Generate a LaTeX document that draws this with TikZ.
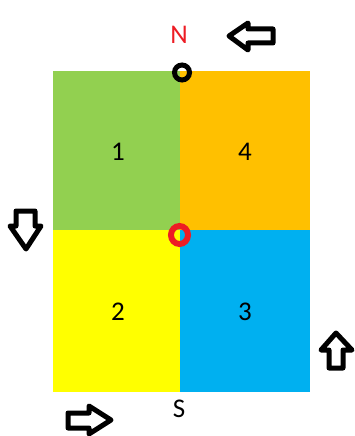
\documentclass[tikz,border=0pt]{standalone}
\usepackage{fontspec}
\setmainfont{Carlito}
\definecolor{qgreen}{RGB}{146,208,80}
\definecolor{qorange}{RGB}{255,192,0}
\definecolor{qyellow}{RGB}{255,255,0}
\definecolor{qblue}{RGB}{0,176,240}
\definecolor{nred}{RGB}{237,28,36}
\tikzset{
blockarrow/.style={draw=black, fill=white, line width=5pt, line join=round},
quadlabel/.style={font=\fontsize{27}{31}\selectfont, inner sep=0.75pt},
marker/.style={line width=5pt}}
\begin{document}
\begin{tikzpicture}[x=1pt,y=1pt,yscale=-1,xscale=1]
\useasboundingbox (0,0) rectangle (355,436);

%Shape: Rectangle green
\fill [qgreen] (53,71) -- (180,71) -- (180,230) -- (53,230) -- cycle ;
%Shape: Rectangle orange
\fill [qorange] (180,71) -- (310,71) -- (310,230) -- (180,230) -- cycle ;
%Shape: Rectangle yellow
\fill [qyellow] (53,230) -- (180,230) -- (180,392) -- (53,392) -- cycle ;
%Shape: Rectangle blue
\fill [qblue] (180,230) -- (310,230) -- (310,392) -- (180,392) -- cycle ;

%Shape: Circle black
\draw [marker, black] (182,72.5) circle (7.5) ;
%Shape: Ellipse red
\draw [marker, line width=6pt, nred] (179.5,235) ellipse (8.5 and 9) ;

%Shape: Left Arrow
\draw [blockarrow] (229,36) -- (248,23) -- (248,29) -- (273,29) -- (273,43) -- (248,43) -- (248,50) -- cycle ;
%Shape: Down Arrow
\draw [blockarrow] (26,249) -- (10,226) -- (16,226) -- (16,211) -- (35,211) -- (35,226) -- (41,226) -- cycle ;
%Shape: Right Arrow
\draw [blockarrow] (111,420) -- (89,406) -- (89,413) -- (68,413) -- (68,428) -- (89,428) -- (89,434) -- cycle ;
%Shape: Up Arrow
\draw [blockarrow] (336,333) -- (352,350) -- (343,350) -- (343,368) -- (329,368) -- (329,350) -- (321,350) -- cycle ;

% Text Node
\node [quadlabel] (one) at (118,152) {1};
% Text Node
\node [quadlabel] (four) at (245,152) {4};
% Text Node
\node [quadlabel] (two) at (118,312) {2};
% Text Node
\node [quadlabel] (three) at (245,312) {3};
% Text Node
\node [quadlabel, text=nred] (north) at (179,35) {N};
% Text Node
\node [quadlabel] (south) at (179,409) {S};

\end{tikzpicture}
\end{document}
